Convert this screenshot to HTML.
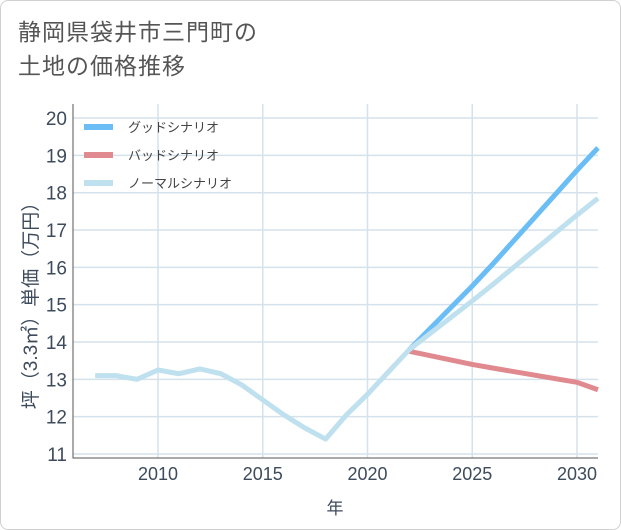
<!DOCTYPE html>
<html><head><meta charset="utf-8"><style>
body{margin:0;background:#fff;font-family:"Liberation Sans","Noto Sans CJK JP",sans-serif;}
#wrap{position:relative;width:619px;height:528px;border:1px solid #d0d0d0;border-radius:8px;overflow:hidden;background:#fff}
#title{position:absolute;left:17px;top:14px;font-size:23px;line-height:34px;color:#555;letter-spacing:1px}
svg{position:absolute;left:0;top:0}
</style></head><body>
<div id="wrap">
<div id="title">静岡県袋井市三門町の<br>土地の価格推移</div>
<svg id="c" width="621" height="530"></svg>
</div>
<script>
const histYears=[2007,2008,2009,2010,2011,2012,2013,2014,2015,2016,2017,2018,2019,2020,2021,2022];
const histVals=[13.1,13.1,13.0,13.25,13.15,13.28,13.15,12.85,12.45,12.05,11.7,11.4,12.05,12.6,13.2,13.8];
const projYears=[2022,2025,2026,2030,2031];
const goodVals=[13.8,15.5,16.1,18.6,19.2];
const badVals=[13.75,13.4,13.3,12.92,12.72];
const normVals=[13.8,15.1,15.55,17.4,17.85];
const yTicks=[11,12,13,14,15,16,17,18,19,20];
const xTicks=[2010,2015,2020,2025,2030];
const L=72,R=597,T=103,B=457;
const X=y=>157+(y-2010)*20.95;
const Y=v=>453-(v-11)*37.33;
const svg=document.getElementById('c');const NS='http://www.w3.org/2000/svg';
function mk(t,a,p){const e=document.createElementNS(NS,t);for(const k in a)e.setAttribute(k,a[k]);(p||svg).appendChild(e);return e;}
yTicks.forEach(v=>{
 const l=mk('line',{x1:L,x2:R,y1:Y(v),y2:Y(v),stroke:'#d5e2ec','stroke-width':1.5});
 
 const t=mk('text',{x:L-6,y:Y(v)+7,'text-anchor':'end','font-size':19,fill:'#3d4b5c'});t.textContent=v;
 
});
xTicks.forEach(v=>{
 const l=mk('line',{x1:X(v),x2:X(v),y1:T,y2:B,stroke:'#d5e2ec','stroke-width':1.5});
 
 const t=mk('text',{x:X(v),y:B+22,'text-anchor':'middle','font-size':18,fill:'#3d4b5c'});t.textContent=v;
 
});
const ax=mk('path',{d:`M${L},${T}V${B}H${R}`,fill:'none',stroke:'#555','stroke-width':1});

function line(xs,vs,col,name){
 const p=mk('polyline',{points:xs.map((x,i)=>X(x)+','+Y(vs[i])).join(' '),fill:'none',stroke:col,'stroke-width':5,'stroke-linejoin':'round'});
 
}
line(projYears,badVals,'#e08a8f','bad-scenario-line');
line(projYears,goodVals,'#6bbdf5','good-scenario-line');
line(projYears,normVals,'#bfe0ee','normal-scenario-line');
line(histYears,histVals,'#bfe0ee','history-line');
const leg=[['グッドシナリオ','#6bbdf5'],['バッドシナリオ','#e08a8f'],['ノーマルシナリオ','#bfe0ee']];
leg.forEach((d,i)=>{
 const y=126+i*28;
 const l=mk('line',{x1:83,x2:112,y1:y,y2:y,stroke:d[1],'stroke-width':6});
 
 const t=mk('text',{x:127,y:y+5,'font-size':13,fill:'#444'});t.textContent=d[0];
 
});
const yt=mk('text',{x:0,y:0,transform:'translate(36,300) rotate(-90)','text-anchor':'middle','font-size':19,fill:'#3d4b5c'});
yt.textContent='坪（3.3㎡）単価（万円）';

const xt=mk('text',{x:334,y:513,'text-anchor':'middle','font-size':17,fill:'#3d4b5c'});xt.textContent='年';

</script>
</body></html>
